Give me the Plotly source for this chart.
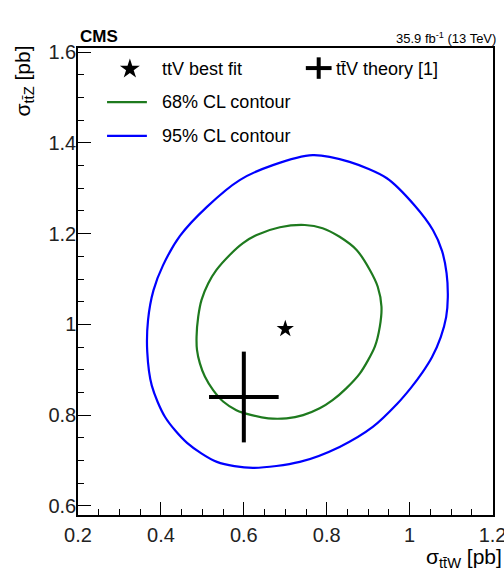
import plotly.graph_objects as go

# ---------------- data ----------------
best_fit_x = [0.70]
best_fit_y = [0.99]

theory_x = [0.60]
theory_y = [0.84]
theory_ex = [0.084]
theory_ey = [0.10]

cl68_x = [0.687, 0.747, 0.790, 0.831, 0.872, 0.904, 0.923, 0.932, 0.928, 0.916, 0.880,
          0.847, 0.814, 0.783, 0.743, 0.703, 0.659, 0.619, 0.582, 0.550, 0.526, 0.506,
          0.494, 0.487, 0.486, 0.490, 0.498, 0.514, 0.534, 0.566, 0.598, 0.631, 0.687]
cl68_y = [1.214, 1.219, 1.212, 1.193, 1.164, 1.120, 1.083, 1.039, 0.995, 0.951, 0.892,
          0.859, 0.833, 0.815, 0.800, 0.793, 0.793, 0.800, 0.811, 0.830, 0.855, 0.885,
          0.914, 0.944, 0.973, 1.017, 1.054, 1.090, 1.120, 1.153, 1.179, 1.197, 1.214]

cl95_x = [0.766, 0.855, 0.945, 1.012, 1.056, 1.078, 1.089, 1.092, 1.088, 1.075, 1.054,
          1.030, 1.003, 0.970, 0.911, 0.831, 0.735, 0.622, 0.535, 0.463, 0.410, 0.378,
          0.367, 0.369, 0.382, 0.405, 0.446, 0.511, 0.590, 0.670, 0.766]
cl95_y = [1.373, 1.358, 1.322, 1.262, 1.208, 1.162, 1.113, 1.060, 1.016, 0.972, 0.928,
          0.893, 0.860, 0.825, 0.774, 0.730, 0.697, 0.684, 0.697, 0.739, 0.796, 0.865,
          0.940, 1.010, 1.075, 1.130, 1.195, 1.259, 1.318, 1.351, 1.373]

x_ticks = [0.2, 0.4, 0.6, 0.8, 1.0, 1.2]
x_tick_labels = ["0.2", "0.4", "0.6", "0.8", "1", "1.2"]
y_ticks = [0.6, 0.8, 1.0, 1.2, 1.4, 1.6]
y_tick_labels = ["0.6", "0.8", "1", "1.2", "1.4", "1.6"]

legend_labels = ["ttV best fit", "tt\u0304V theory [1]", "68% CL contour", "95% CL contour"]

# ---------------- style ----------------
FONT = "Liberation Sans, Arial, Helvetica, sans-serif"
GREEN = "rgb(30,122,30)"
BLUE = "rgb(0,0,255)"

fig = go.Figure()

fig.add_trace(go.Scatter(x=cl95_x, y=cl95_y, mode="lines",
                         line=dict(color=BLUE, width=2.2, shape="spline", smoothing=0.8), showlegend=False))
fig.add_trace(go.Scatter(x=cl68_x, y=cl68_y, mode="lines",
                         line=dict(color=GREEN, width=2.2, shape="spline", smoothing=0.8), showlegend=False))
fig.add_trace(go.Scatter(x=best_fit_x, y=best_fit_y, mode="markers",
                         marker=dict(symbol="star", size=13, color="black"), showlegend=False))
fig.add_trace(go.Scatter(x=theory_x, y=theory_y, mode="markers",
                         marker=dict(size=1, color="rgba(0,0,0,0)"),
                         error_x=dict(type="data", array=theory_ex, color="black", thickness=4, width=0),
                         error_y=dict(type="data", array=theory_ey, color="black", thickness=4, width=0),
                         showlegend=False))

# ---------------- legend glyphs on an overlay axis (0..1 of plot area) ----------------
fig.add_trace(go.Scatter(x=[0.125], y=[0.955], mode="markers", xaxis="x2", yaxis="y2",
                         marker=dict(symbol="star", size=15, color="black"), showlegend=False))
fig.add_trace(go.Scatter(x=[0.580], y=[0.957], mode="markers", xaxis="x2", yaxis="y2",
                         marker=dict(size=1, color="rgba(0,0,0,0)"),
                         error_x=dict(type="data", array=[0.031], color="black", thickness=4, width=0),
                         error_y=dict(type="data", array=[0.023], color="black", thickness=4, width=0),
                         showlegend=False))
fig.add_trace(go.Scatter(x=[0.070, 0.166], y=[0.884, 0.884], mode="lines", xaxis="x2", yaxis="y2",
                         line=dict(color=GREEN, width=2.2), showlegend=False))
fig.add_trace(go.Scatter(x=[0.070, 0.166], y=[0.812, 0.812], mode="lines", xaxis="x2", yaxis="y2",
                         line=dict(color=BLUE, width=2.2), showlegend=False))

legend_pos = [(0.198, 0.955), (0.617, 0.955), (0.198, 0.884), (0.198, 0.812)]
annotations = []
for (lx, ly), txt in zip(legend_pos, legend_labels):
    annotations.append(dict(x=lx, y=ly, xref="paper", yref="paper", text=txt, showarrow=False,
                            xanchor="left", yanchor="middle", font=dict(family=FONT, size=18, color="black")))

annotations += [
    dict(x=0, y=1.0, xref="paper", yref="paper", text="<b>CMS</b>", showarrow=False,
         xanchor="left", yanchor="bottom", yshift=0, font=dict(family=FONT, size=17, color="black")),
    dict(x=1, y=1.0, xref="paper", yref="paper", text="35.9 fb<sup>-1</sup> (13 TeV)", showarrow=False,
         xanchor="right", yanchor="bottom", yshift=0, xshift=5, font=dict(family=FONT, size=13, color="black")),
    dict(x=1, y=0, xref="paper", yref="paper", text="σ<sub>tt\u0304W</sub> [pb]", showarrow=False,
         xanchor="right", yanchor="top", yshift=-28, xshift=11, font=dict(family=FONT, size=21, color="black")),
    dict(x=0, y=1, xref="paper", yref="paper", text="σ<sub>tt\u0304Z</sub> [pb]", showarrow=False,
         textangle=-90, xanchor="right", yanchor="top", xshift=-40, yshift=4,
         font=dict(family=FONT, size=21, color="black")),
]

axis_common = dict(
    showgrid=False, zeroline=False, showline=True, linecolor="black", linewidth=1.5, mirror=True,
    ticks="inside", ticklen=13, tickwidth=1.3, tickcolor="black", automargin=False,
    ticklabeloverflow="allow",
    minor=dict(ticks="inside", ticklen=6, tickwidth=1.1, tickcolor="black", dtick=0.05, showgrid=False),
    tickfont=dict(family=FONT, size=20, color="#222"),
)

fig.update_layout(
    width=504, height=573,
    margin=dict(l=78, r=11, t=48, b=58),
    paper_bgcolor="white", plot_bgcolor="white",
    xaxis=dict(range=[0.2, 1.201], tickvals=x_ticks, ticktext=x_tick_labels, ticklabelstandoff=1, **axis_common),
    yaxis=dict(range=[0.58, 1.609], tickvals=y_ticks, ticktext=y_tick_labels, ticklabelstandoff=-4, **axis_common),
    xaxis2=dict(overlaying="x", range=[0, 1], visible=False, fixedrange=True),
    yaxis2=dict(overlaying="y", range=[0, 1], visible=False, fixedrange=True),
    annotations=annotations,
    showlegend=False,
)

fig.write_html("out.html")
